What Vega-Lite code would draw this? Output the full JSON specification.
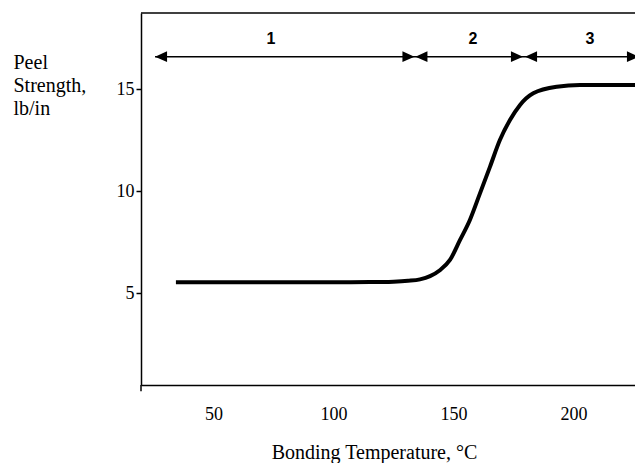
{
  "$schema": "https://vega.github.io/schema/vega-lite/v6.json",
  "width": 494,
  "height": 372,
  "autosize": {"type": "none"},
  "padding": {"left": 141, "top": 13, "right": 0, "bottom": 78},
  "background": "white",
  "config": {
    "view": {"stroke": null},
    "axis": {
      "grid": false,
      "domainColor": "black",
      "domainWidth": 1.5,
      "tickColor": "black",
      "tickWidth": 1.5,
      "labelColor": "black",
      "titleColor": "black",
      "labelFont": "Liberation Serif",
      "titleFont": "Liberation Serif",
      "labelFontSize": 18,
      "titleFontSize": 20,
      "titleFontWeight": "normal"
    }
  },
  "datasets": {
    "curve": [
      {"x": 34.3, "y": 5.55},
      {"x": 60, "y": 5.55},
      {"x": 90, "y": 5.55},
      {"x": 115, "y": 5.56},
      {"x": 125, "y": 5.58},
      {"x": 131, "y": 5.62},
      {"x": 136.0, "y": 5.69},
      {"x": 140.2, "y": 5.85},
      {"x": 144.3, "y": 6.14},
      {"x": 148.5, "y": 6.64},
      {"x": 152.7, "y": 7.62},
      {"x": 156.8, "y": 8.6},
      {"x": 161.0, "y": 9.9},
      {"x": 165.2, "y": 11.21},
      {"x": 169.3, "y": 12.51},
      {"x": 173.5, "y": 13.49},
      {"x": 177.7, "y": 14.23},
      {"x": 183.2, "y": 14.8},
      {"x": 193.0, "y": 15.12},
      {"x": 202.7, "y": 15.2},
      {"x": 225.6, "y": 15.2}
    ],
    "span": [{"x": 25.6, "x2": 227, "y": 16.59}],
    "heads": [
      {"x": 28.1, "y": 16.59, "dir": "L"},
      {"x": 131.2, "y": 16.59, "dir": "R"},
      {"x": 136.6, "y": 16.59, "dir": "L"},
      {"x": 176.4, "y": 16.59, "dir": "R"},
      {"x": 182.3, "y": 16.59, "dir": "L"},
      {"x": 224.75, "y": 16.59, "dir": "R"}
    ],
    "labels": [
      {"x": 73.9, "y": 17.46, "t": "1"},
      {"x": 158.1, "y": 17.46, "t": "2"},
      {"x": 206.8, "y": 17.46, "t": "3"}
    ]
  },
  "layer": [
    {
      "data": {"name": "curve"},
      "mark": {"type": "line", "interpolate": "monotone", "color": "black", "strokeWidth": 4},
      "encoding": {
        "x": {
          "field": "x",
          "type": "quantitative",
          "scale": {"domain": [19.75, 225.6], "nice": false, "zero": false},
          "axis": {
            "values": [50, 100, 150, 200],
            "ticks": false,
            "tickSize": 0,
            "labelPadding": 20,
            "labelFlush": false,
            "title": "Bonding Temperature, °C",
            "titleAnchor": "start",
            "titleAlign": "center",
            "titleX": 233,
            "titleY": 73,
            "titleBaseline": "alphabetic"
          }
        },
        "y": {
          "field": "y",
          "type": "quantitative",
          "scale": {"domain": [0.52, 18.73], "nice": false, "zero": false},
          "axis": {
            "values": [5, 10, 15],
            "tickSize": 5,
            "labelPadding": 2,
            "title": ["Peel", "Strength,", "lb/in"],
            "titleAngle": 0,
            "titleAlign": "left",
            "titleAnchor": "start",
            "titleX": -128,
            "titleY": 55,
            "titleBaseline": "alphabetic",
            "titleLineHeight": 23
          }
        }
      }
    },
    {
      "data": {"name": "span"},
      "mark": {"type": "rule", "color": "black", "strokeWidth": 1.5},
      "encoding": {
        "x": {"field": "x", "type": "quantitative"},
        "x2": {"field": "x2"},
        "y": {"field": "y", "type": "quantitative"}
      }
    },
    {
      "data": {"name": "heads"},
      "mark": {"type": "point", "filled": true, "opacity": 1, "size": 144, "color": "black", "strokeWidth": 0},
      "encoding": {
        "x": {"field": "x", "type": "quantitative"},
        "y": {"field": "y", "type": "quantitative"},
        "shape": {
          "field": "dir",
          "type": "nominal",
          "scale": {"domain": ["L", "R"], "range": ["M-1,0L1,-0.9L1,0.9Z", "M1,0L-1,-0.9L-1,0.9Z"]},
          "legend": null
        }
      }
    },
    {
      "data": {"name": "labels"},
      "mark": {"type": "text", "font": "Liberation Sans", "fontSize": 16, "fontWeight": "bold", "color": "black", "baseline": "middle", "align": "center"},
      "encoding": {
        "x": {"field": "x", "type": "quantitative"},
        "y": {"field": "y", "type": "quantitative"},
        "text": {"field": "t"}
      }
    },
    {
      "data": {"values": [{}]},
      "mark": {"type": "rule", "color": "black", "strokeWidth": 1.5},
      "encoding": {"y": {"datum": 18.73}}
    },
    {
      "data": {"values": [{}]},
      "mark": {"type": "rule", "color": "black", "strokeWidth": 1.5},
      "encoding": {"x": {"datum": 19.75}, "y": {"datum": 0.52}, "y2": {"datum": 0.22}}
    }
  ]
}
